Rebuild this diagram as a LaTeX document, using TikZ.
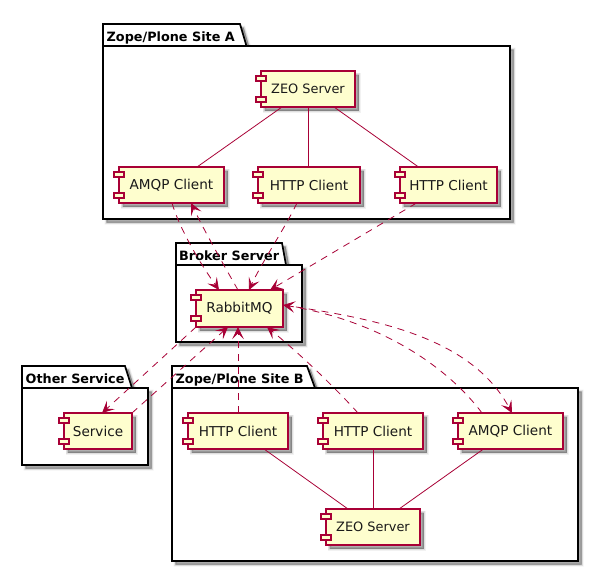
\documentclass[tikz,border=0pt]{standalone}
\usepackage{fontspec}
\setmainfont{DejaVu Sans}
\usetikzlibrary{arrows.meta,shadows,calc}
\definecolor{umlred}{HTML}{A80036}
\definecolor{umlfill}{HTML}{FEFECE}
\newcommand{\zeofont}{\fontsize{12.9}{14}\selectfont}
\tikzset{
  softshadow/.style={
    general shadow={shadow xshift=3.5pt,shadow yshift=-3.5pt,fill=black,draw=black,line width=4pt,opacity=.05},
    general shadow={shadow xshift=3.5pt,shadow yshift=-3.5pt,fill=black,draw=black,line width=2.5pt,opacity=.08},
    general shadow={shadow xshift=3.5pt,shadow yshift=-3.5pt,fill=black,draw=black,line width=1pt,opacity=.12},
    general shadow={shadow xshift=3.5pt,shadow yshift=-3.5pt,fill=black,opacity=.1}},
  pkg/.style={draw=black,line width=1.7pt,fill=white,line join=miter,softshadow},
  pkgtitle/.style={font=\fontsize{12.8}{14}\selectfont\bfseries,anchor=base west,inner sep=0pt},
  comp/.style={draw=umlred,line width=1.1pt,fill=umlfill,inner sep=0pt,outer sep=0pt,softshadow,
    font=\fontsize{13.6}{15}\selectfont,text=black!90},
  lug/.style={draw=umlred,line width=1.1pt,fill=umlfill},
  link/.style={draw=umlred,line width=.8pt},
  dep/.style={link,dash pattern=on 7pt off 6pt},
  tip/.style={-{Stealth[inset=5.5pt,length=12pt,width=11.5pt]}},
}
% name, x1, y1, x2, y2, text
\newcommand{\component}[6]{%
  \node[comp,minimum width={(#4-#2)*1pt},minimum height={(#5-#3)*1pt}] (#1) at ({(#2+#4)/2},{(#3+#5)/2}) {#6};
  \draw[lug] ($(#1.north west)+(-5,5)$) rectangle ($(#1.north west)+(5,10)$);
  \draw[lug] ($(#1.north west)+(-5,26)$) rectangle ($(#1.north west)+(5,31)$);
}
% x1, tabtop, bodytop, bottom, x2, tab right top, tab right bottom
\newcommand{\package}[7]{%
  \path[pkg] (#1,#2) -- (#6,#2) -- (#7,#3) -- (#5,#3) -- (#5,#4) -- (#1,#4) -- cycle;
  \draw[line width=1.7pt,black] (#1,#3) -- (#7,#3);
}
\begin{document}
\begin{tikzpicture}[x=1pt,y=-1pt]
\useasboundingbox (0,0) rectangle (612,587);
\fill[white] (0,0) rectangle (612,587);

\package{103}{24}{46}{219}{510}{240}{246.5}
\node[pkgtitle] (titleA) at (106.5,41) {Zope/Plone Site A};
\package{176}{243}{265}{342}{302}{282}{286}
\node[pkgtitle] (titleBroker) at (179,260) {Broker Server};
\package{22}{366}{388}{465}{148}{125}{132}
\node[pkgtitle] (titleOther) at (25.5,383) {Other Service};
\package{172}{366}{388}{561}{578}{307}{315}
\node[pkgtitle] (titleB) at (175.5,383) {Zope/Plone Site B};

\component{zeoA}{261}{71}{355}{107}{\zeofont ZEO Server}
\component{amqpA}{119}{167}{224}{203}{AMQP Client}
\component{httpA}{258}{167}{360}{203}{HTTP Client}
\component{httpAA}{400}{167}{497}{203}{HTTP Client}
\component{rabbit}{196}{290}{283}{327}{RabbitMQ}
\component{service}{64}{413}{132}{449}{Service}
\component{httpB}{188}{413}{288}{449}{HTTP Client}
\component{httpBB}{323}{413}{423}{449}{HTTP Client}
\component{amqpB}{458}{413}{563}{449}{AMQP Client}
\component{zeoB}{326}{509}{420}{545}{\zeofont ZEO Server}

% solid links
\draw[link] ([xshift=-26pt]zeoA.south) -- ([xshift=25.5pt]amqpA.north);
\draw[link] (zeoA.south) -- (zeoA.south |- httpA.north);
\draw[link] ([xshift=26pt]zeoA.south) -- ([xshift=-30pt]httpAA.north);
\draw[link] ([xshift=26pt]httpB.south) -- ([xshift=-25pt]zeoB.north);
\draw[link] (httpBB.south) -- (httpBB.south |- zeoB.north);
\draw[link] ([xshift=-27pt]amqpB.south) -- ([xshift=26pt]zeoB.north);

% dashed dependencies
\draw[dep,tip] (amqpA.south) ++(.5,0) .. controls (178,224) and (195,256) .. ([xshift=-20.5pt]rabbit.north);
\draw[dep,tip] ([xshift=-1.5pt]rabbit.north) .. controls (222,262) and (205,232) .. ([xshift=19.5pt]amqpA.south);
\draw[dep,tip] ([xshift=-12pt]httpA.south) .. controls (285,228) and (262,262) .. ([xshift=9.5pt]rabbit.north);
\draw[dep,tip] ([xshift=-32pt]httpAA.south) -- ([xshift=30.5pt]rabbit.north);
\draw[dep,tip] (rabbit.south west) -- ([xshift=4pt]service.north);
\draw[dep,tip] (service.north east) -- ([xshift=-11.5pt]rabbit.south);
\draw[dep,tip] (httpB.north) -- (httpB.north |- rabbit.south);
\draw[dep,tip] ([xshift=-15pt]httpBB.north) .. controls (340,393) and (305,358) .. ([xshift=27.5pt]rabbit.south);
\draw[dep,tip] ([xshift=-28.5pt]amqpB.north) .. controls (450,370) and (385,322) .. ([yshift=3.5pt]rabbit.east);
\draw[dep,tip] ([yshift=3.5pt]rabbit.east) .. controls (370,318) and (470,335) .. ([xshift=1.5pt]amqpB.north);
\end{tikzpicture}
\end{document}
